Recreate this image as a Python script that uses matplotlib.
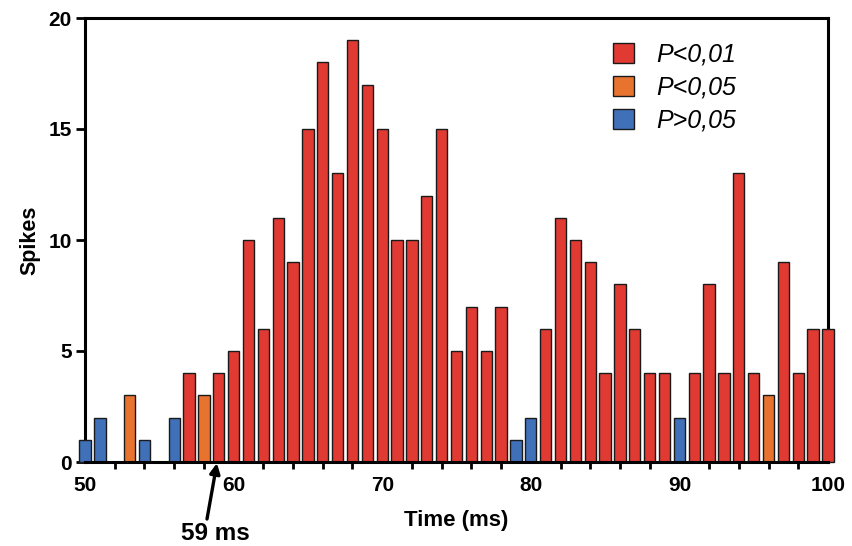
import matplotlib
matplotlib.use("Agg")
import matplotlib.pyplot as plt
from matplotlib.patches import Patch

# Data
times = list(range(50, 101))
spikes = [1, 2, 0, 3, 1, 0, 2, 4, 3, 4,
          5, 10, 6, 11, 9, 15, 18, 13, 19, 17,
          15, 10, 10, 12, 15, 5, 7, 5, 7, 1,
          2, 6, 11, 10, 9, 4, 8, 6, 4, 4,
          2, 4, 8, 4, 13, 4, 3, 9, 4, 6, 6]
# significance class: 'r' P<0,01, 'o' P<0,05, 'b' P>0,05
classes = ['b', 'b', 'b', 'o', 'b', 'b', 'b', 'r', 'o', 'r',
           'r', 'r', 'r', 'r', 'r', 'r', 'r', 'r', 'r', 'r',
           'r', 'r', 'r', 'r', 'r', 'r', 'r', 'r', 'r', 'b',
           'b', 'r', 'r', 'r', 'r', 'r', 'r', 'r', 'r', 'r',
           'b', 'r', 'r', 'r', 'r', 'r', 'o', 'r', 'r', 'r', 'r']
legend_labels = ['P<0,01', 'P<0,05', 'P>0,05']
x_ticklabels = [50, 60, 70, 80, 90, 100]
y_ticklabels = [0, 5, 10, 15, 20]
marker_time = 59

colors = {'r': '#e03a33', 'o': '#e8732e', 'b': '#3f70b8'}

plt.rcParams['font.family'] = ['Liberation Sans', 'DejaVu Sans']

fig = plt.figure(figsize=(8.53, 5.46), dpi=100)
ax = fig.add_axes([85/853, (546-462)/546, 743/853, 444/546])

bars = ax.bar(times, spikes, width=0.76, color=[colors[c] for c in classes],
              edgecolor='#1a1a1a', linewidth=1.0, zorder=3)
for b in bars:
    b.set_clip_on(False)

ax.set_xlim(50, 100)
ax.set_ylim(0, 20)

for s in ['left', 'right', 'top', 'bottom']:
    ax.spines[s].set_linewidth(2.2)
    ax.spines[s].set_color('black')
    ax.spines[s].set_zorder(2)
ax.spines['bottom'].set_zorder(4)

ax.set_xticks(x_ticklabels)
ax.set_xticks(list(range(52, 100, 2)), minor=True)
ax.set_yticks(y_ticklabels)
ax.tick_params(axis='x', which='both', direction='out', width=2, length=5,
               labelsize=15)
ax.tick_params(axis='x', which='major', length=0, pad=10)
ax.tick_params(axis='y', which='both', direction='out', width=2, length=6.5,
               labelsize=15, pad=3)
for lab in ax.get_xticklabels() + ax.get_yticklabels():
    lab.set_fontweight('bold')

ax.set_xlabel('Time (ms)', fontsize=16, fontweight='bold', labelpad=11)
ax.set_ylabel('Spikes', fontsize=15.5, fontweight='bold', labelpad=6)

handles = [Patch(facecolor=colors[k], edgecolor='#1a1a1a', linewidth=1.0)
           for k in ['r', 'o', 'b']]
leg = ax.legend(handles, legend_labels, loc='upper left',
                bbox_to_anchor=(0.68, 0.995), frameon=False,
                prop={'style': 'italic', 'size': 18}, handlelength=0.85,
                handleheight=0.8, handletextpad=0.9, labelspacing=0.36)

ax.annotate('', xy=(marker_time - 0.12, -0.05), xycoords='data',
            xytext=(207, 546-519), textcoords='figure pixels',
            arrowprops=dict(arrowstyle='-|>', color='black', lw=2.4,
                            mutation_scale=15, shrinkA=0, shrinkB=0),
            annotation_clip=False)
fig.text(215/853, 1 - 533/546, f'{marker_time} ms', ha='center', va='center',
         fontsize=17.5, fontweight='bold')

fig.savefig('out.png', dpi=100)
